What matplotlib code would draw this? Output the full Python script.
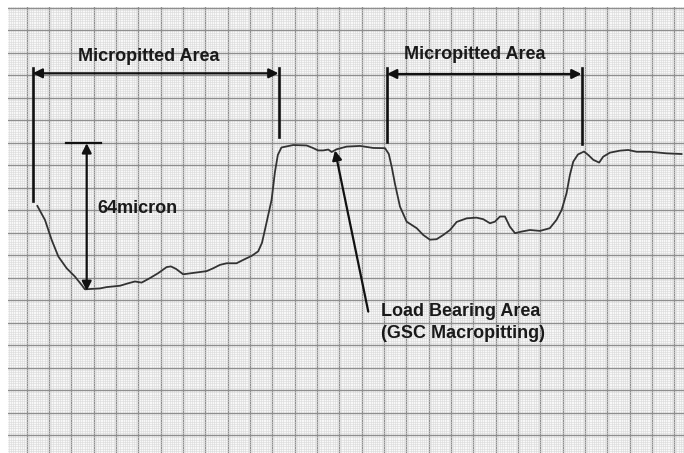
import numpy as np
import matplotlib
matplotlib.use("Agg")
import matplotlib.pyplot as plt

# Profile trace (x, y in major grid divisions)
trace_x = [0.48, 0.82, 1.12, 1.42, 1.79, 2.16, 2.46, 2.61, 2.92, 3.28, 3.58, 4.18, 4.55, 4.85,
           5.15, 5.52, 5.89, 6.27, 6.46, 6.69, 7.01, 7.46, 8.06, 8.36, 8.66, 8.96, 9.40, 9.70,
           10.08, 10.37, 10.54, 10.67, 10.82, 10.97, 11.12, 11.25, 11.41, 11.94, 12.54, 12.82,
           13.05, 13.28, 13.51, 13.66, 13.88, 14.33, 14.93, 15.52, 16.05, 16.22, 16.36, 16.49,
           16.72, 17.02, 17.47, 17.76, 18.06, 18.36, 18.66, 18.96, 19.26, 19.71, 20.15, 20.45,
           20.75, 20.97, 21.20, 21.42, 21.64, 21.87, 22.17, 22.54, 22.99, 23.43, 23.73, 23.96,
           24.18, 24.33, 24.48, 24.69, 24.96, 25.15, 25.38, 25.64, 25.82, 26.12, 26.57, 26.94,
           27.32, 27.91, 28.66, 29.33]
trace_y = [10.19, 9.57, 8.68, 7.94, 7.42, 7.05, 6.68, 6.48, 6.50, 6.52, 6.58, 6.64, 6.75, 6.83,
           6.78, 6.98, 7.20, 7.47, 7.50, 7.39, 7.15, 7.21, 7.29, 7.42, 7.57, 7.64, 7.64, 7.79,
           7.97, 8.17, 8.55, 9.12, 9.79, 10.46, 11.70, 12.46, 12.79, 12.90, 12.88, 12.77,
           12.66, 12.66, 12.70, 12.59, 12.71, 12.83, 12.86, 12.77, 12.76, 12.50, 11.88, 11.20,
           10.16, 9.49, 9.20, 8.90, 8.69, 8.71, 8.90, 9.12, 9.48, 9.64, 9.67, 9.60,
           9.42, 9.49, 9.72, 9.72, 9.27, 8.98, 9.05, 9.12, 9.08, 9.20, 9.57, 10.01,
           10.76, 11.57, 12.16, 12.48, 12.61, 12.46, 12.24, 12.12, 12.38, 12.56, 12.65, 12.68,
           12.60, 12.60, 12.53, 12.50]

# Annotation geometry (grid divisions)
region_labels = ["Micropitted Area", "Micropitted Area"]
region_x0 = [0.27, 16.14]
region_x1 = [11.28, 24.85]
region_arrow_y = [16.09, 16.06]
region_bar_top = [16.34, 16.34]
region_bar_bot0 = [10.41, 13.05]
region_bar_bot1 = [13.26, 12.95]
region_label_x = [5.48, 20.09]
region_label_y = [16.86, 16.92]

depth_label = "64micron"
depth_x = 2.69
depth_top = 12.98
depth_bottom = 6.41
depth_bar = [1.76, 3.35]
depth_label_pos = (4.94, 10.06)

load_lines = ["Load Bearing Area", "(GSC Macropitting)"]
load_line_y = [5.48, 4.50]
load_label_x = 15.87
load_tip = (13.81, 12.66)
load_tail = (15.30, 5.49)

fig = plt.figure(figsize=(6.84, 4.53), dpi=100)
ax = fig.add_axes([8/684, 0, 676/684, 446/453])
ax.set_xlim(-0.835, 29.44)
ax.set_ylim(-0.79, 19.04)
ax.set_facecolor("#f8f8f8")

ax.set_xticks(np.arange(0, 30, 1))
ax.set_yticks(np.arange(0, 20, 1))
ax.set_xticks(np.arange(-0.8, 29.5, 0.1), minor=True)
ax.set_yticks(np.arange(-0.8, 19.1, 0.1), minor=True)
ax.grid(which="minor", color="#d8d8d8", lw=0.4)
ax.grid(which="major", color="#8e8e8e", lw=1.0)
ax.tick_params(which="both", length=0, labelbottom=False, labelleft=False)
for s in ax.spines.values():
    s.set_visible(False)
ax.set_axisbelow(True)

ax.plot(trace_x, trace_y, color="#333333", lw=1.3, solid_joinstyle="round")

font = dict(family=["Liberation Sans", "DejaVu Sans"], fontweight="bold", fontsize=13, color="#1a1a1a")
ap = dict(color="#111111", lw=1.6, mutation_scale=14, shrinkA=0, shrinkB=0)

for i in range(2):
    ax.plot([region_x0[i], region_x0[i]], [region_bar_bot0[i], region_bar_top[i]], color="#111111", lw=1.9)
    ax.plot([region_x1[i], region_x1[i]], [region_bar_bot1[i], region_bar_top[i]], color="#111111", lw=1.9)
    ax.annotate("", xy=(region_x1[i], region_arrow_y[i]), xytext=(region_x0[i], region_arrow_y[i]),
                arrowprops=dict(arrowstyle="<|-|>", **ap))
    ax.text(region_label_x[i], region_label_y[i], region_labels[i], ha="center", va="center", **font)

ax.plot(depth_bar, [depth_top, depth_top], color="#111111", lw=1.6)
ax.annotate("", xy=(depth_x, depth_bottom), xytext=(depth_x, depth_top),
            arrowprops=dict(arrowstyle="<|-|>", **ap))
ax.text(depth_label_pos[0], depth_label_pos[1], depth_label, ha="center", va="center", **font)

ax.annotate("", xy=load_tip, xytext=load_tail, arrowprops=dict(arrowstyle="-|>", **ap))
for line, yy in zip(load_lines, load_line_y):
    ax.text(load_label_x, yy, line, ha="left", va="center", **font)

fig.savefig("out.png", dpi=100, facecolor="white")
